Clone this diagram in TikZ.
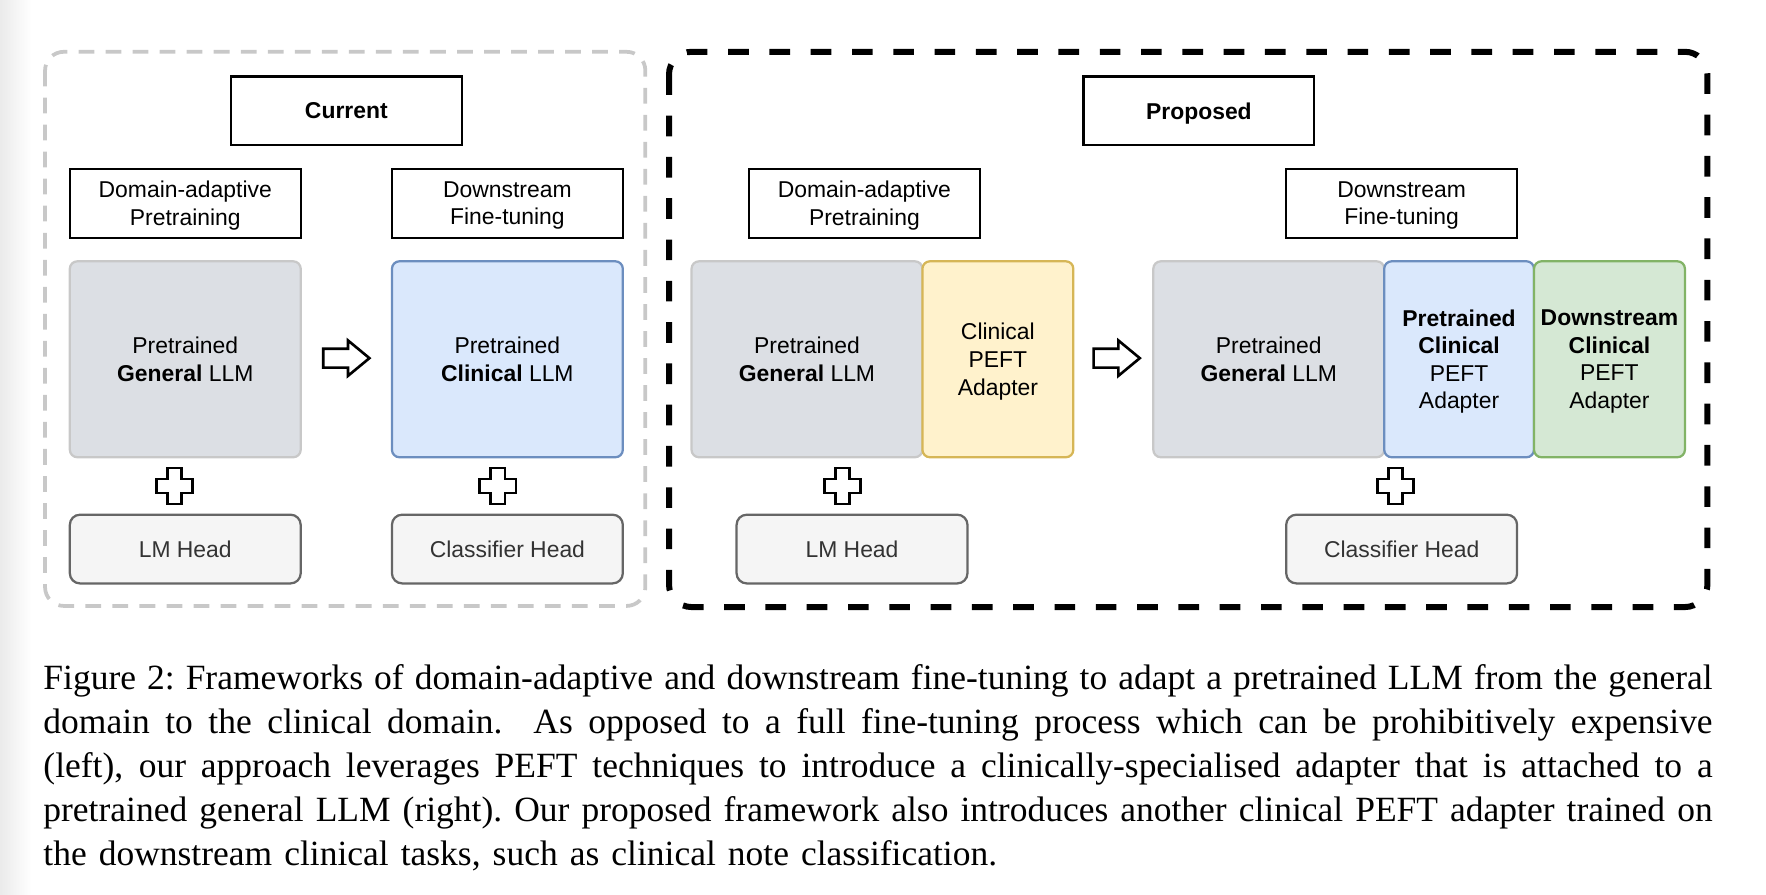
\documentclass[tikz,border=0pt]{standalone}
\usepackage{fontspec}
\setmainfont{Liberation Serif}
\newfontfamily\diafont{Liberation Sans}
\usepackage{tikz}

\definecolor{llmgray}{HTML}{DCDFE4}
\definecolor{llmline}{HTML}{C8C8C8}
\definecolor{clinblue}{HTML}{DAE8FC}
\definecolor{clinline}{HTML}{6C8EBF}
\definecolor{peftyellow}{HTML}{FFF2CC}
\definecolor{peftline}{HTML}{D6B656}
\definecolor{downgreen}{HTML}{D5E8D4}
\definecolor{downline}{HTML}{82B366}
\definecolor{headfill}{HTML}{F5F5F5}
\definecolor{headline}{HTML}{666666}
\definecolor{headtext}{HTML}{333333}
\definecolor{framegray}{HTML}{C8C8C8}

\begin{document}
\begin{tikzpicture}[x=0.3pt, y=-0.3pt]
\tikzstyle{every node} = [font=\diafont\fontsize{6.1}{7.35}\selectfont, align=center, inner sep=0pt]
\tikzstyle{stage} = [draw, line width=0.6pt, minimum width=61.5pt, minimum height=18.3pt, text depth=0pt]
\tikzstyle{llm} = [draw=llmline, fill=llmgray, line width=0.6pt, rounded corners=2pt, minimum width=61.5pt, minimum height=52.2pt]
\tikzstyle{adapter} = [llm, minimum width=40.2pt, text depth=0pt]
\tikzstyle{head} = [draw=headline, fill=headfill, text=headtext, line width=0.6pt, rounded corners=2.7pt, minimum width=61.5pt, minimum height=18.3pt]

\useasboundingbox (0,0) rectangle (1568,794);
\shade[left color=black!8, right color=white] (0,0) rectangle (28,794);

% frames
\draw[framegray, line width=1pt, dash pattern=on 4.2pt off 3pt, rounded corners=5pt] (40,46) rectangle (573,538);
\draw[line width=1.6pt, dash pattern=on 5.5pt off 5.5pt, rounded corners=6pt] (594,46) rectangle (1516,539);

% current
\node[stage] (cur) at (307.5, 98.5) {\bfseries Current};
\node[stage] (dapc) at (164.5, 180.5) {Domain-adaptive\\Pretraining};
\node[stage] (dftc) at (450.5, 180.5) {Downstream\\Fine-tuning};
\node[llm] (genc) at (164.5, 319) {Pretrained\\\textbf{General} LLM};
\node[llm, fill=clinblue, draw=clinline] (clinc) at (450.5, 319) {Pretrained\\\textbf{Clinical} LLM};
\node[head] (lmc) at (164.5, 487.5) {LM Head};
\node[head] (clsc) at (450.5, 487.5) {Classifier Head};

% proposed
\node[stage] (prop) at (1064.5, 98.5) {\bfseries Proposed\vphantom{C}};
\node[stage] (dapp) at (767.5, 180.5) {Domain-adaptive\\Pretraining};
\node[stage] (dftp) at (1244.5, 180.5) {Downstream\\Fine-tuning};
\node[llm] (genp) at (716.5, 319) {Pretrained\\\textbf{General} LLM};
\node[adapter, fill=peftyellow, draw=peftline] (peft) at (886, 319) {Clinical\\PEFT\\Adapter};
\node[llm] (genq) at (1126.5, 319) {Pretrained\\\textbf{General} LLM};
\node[adapter, minimum width=39.9pt, fill=clinblue, draw=clinline] (pcl) at (1295.5, 319) {\textbf{Pretrained}\\\textbf{Clinical}\\PEFT\\Adapter};
\node[adapter, fill=downgreen, draw=downline] (dcl) at (1429, 319) {\textbf{Downstream}\\\textbf{Clinical}\\PEFT\\Adapter};
\node[head] (lmp) at (756.5, 487.5) {LM Head};
\node[head] (clsp) at (1244.5, 487.5) {Classifier Head};

\foreach \ax in {287, 971}
  \draw[line width=0.7pt, fill=white] (\ax,309.6) -- ++(22,0) -- ++(0,-7.3) -- ++(19,15.7) -- ++(-19,15.7) -- ++(0,-7.3) -- ++(-22,0) -- cycle;

\foreach \px in {155, 442, 748, 1239}
  \draw[line width=0.7pt, fill=white] (\px-6.3,415.5) -- ++(12.6,0) -- ++(0,9.7) -- ++(9.7,0) -- ++(0,12.6) -- ++(-9.7,0) -- ++(0,9.7) -- ++(-12.6,0) -- ++(0,-9.7) -- ++(-9.7,0) -- ++(0,-12.6) -- ++(9.7,0) -- cycle;

\node[anchor=north west, align=left, text width=444.6pt, font=\rmfamily\fontsize{9.45}{11.76}\selectfont] (cap) at (37.9, 589) {%
\spaceskip=0.34em plus 0.3em minus 0.12em\xspaceskip=\spaceskip
\makebox[444.6pt][s]{Figure 2: Frameworks of domain-adaptive and downstream fine-tuning to adapt a pretrained LLM from the general}\\
\makebox[444.6pt][s]{domain to the clinical domain.\ \ As opposed to a full fine-tuning process which can be prohibitively expensive}\\
\makebox[444.6pt][s]{(left), our approach leverages PEFT techniques to introduce a clinically-specialised adapter that is attached to a}\\
\makebox[444.6pt][s]{pretrained general LLM (right). Our proposed framework also introduces another clinical PEFT adapter trained on}\\
the downstream clinical tasks, such as clinical note classification.};
\end{tikzpicture}
\end{document}
